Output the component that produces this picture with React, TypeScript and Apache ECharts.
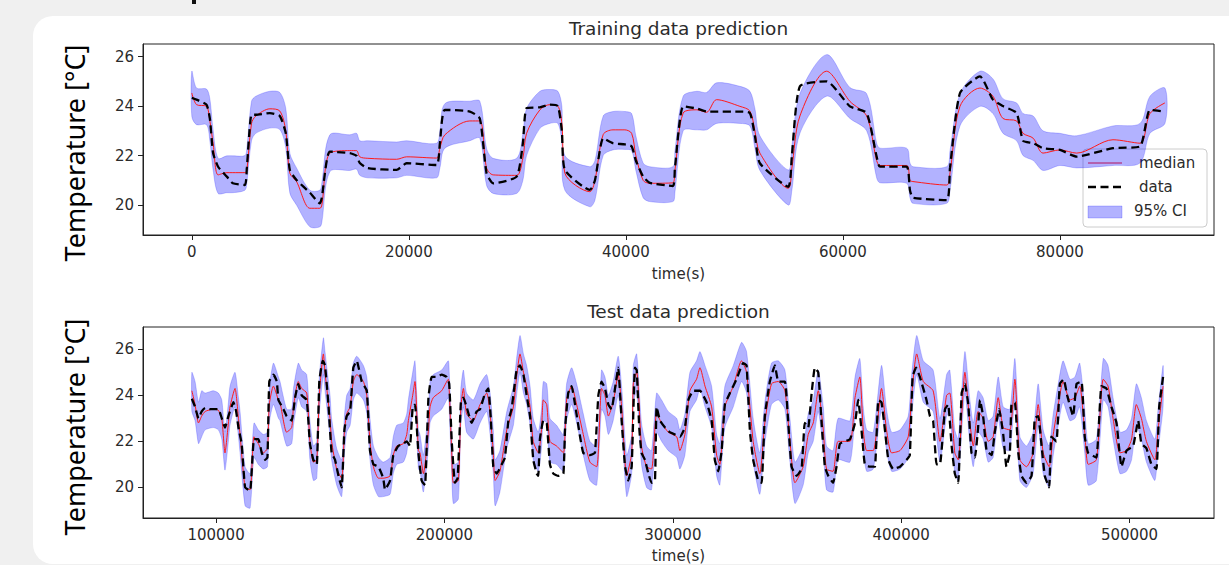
import React, { useEffect, useRef } from "react";
import * as echarts from "echarts";

// ---------------- Training data (time in s, temperature in °C) ----------------
const trainX = [0, 430, 1350, 1660, 1960, 2420, 3230, 3780, 4890, 5070, 5500, 5900, 7190, 8110, 8660, 9030, 9650, 10880, 11800, 11980, 12720, 14560, 15180, 15480, 16220, 18870, 19790, 22550, 22860, 23320, 25620, 26540, 27160, 27770, 29930, 30510, 30850, 32080, 32990, 33730, 34100, 34380, 36680, 37150, 37910, 38810, 39910, 40530, 40920, 41590, 42210, 44330, 44520, 45280, 46540, 47440, 48360, 50510, 51430, 51890, 52350, 54960, 55300, 56040, 58500, 60650, 62190, 63110, 63410, 65870, 66180, 66460, 69560, 69870, 70790, 72630, 73830, 74750, 76010, 76600, 77540, 78440, 80000, 81540, 84890, 87380, 88300, 89680];
const trainData = [24.33, 24.26, 24.06, 23.5, 22.1, 21.55, 21.15, 20.88, 20.81, 21.5, 23.65, 23.65, 23.72, 23.6, 22.9, 21.42, 21.01, 20.5, 20.07, 20.3, 22.16, 22.1, 21.99, 21.7, 21.49, 21.42, 21.69, 21.62, 22.5, 23.85, 23.78, 23.5, 21.29, 20.88, 21.15, 22.5, 23.92, 23.95, 24.06, 24.0, 23.0, 21.42, 20.61, 21.0, 22.7, 22.5, 22.45, 22.37, 21.8, 21.15, 20.9, 20.77, 21.5, 23.99, 23.9, 23.78, 23.78, 23.78, 23.72, 22.8, 21.69, 20.74, 22.0, 24.8, 25.0, 23.99, 23.72, 21.96, 21.55, 21.55, 20.6, 20.3, 20.2, 21.5, 24.53, 25.2, 24.26, 24.0, 23.72, 22.6, 22.5, 22.3, 22.23, 21.96, 22.3, 22.37, 23.85, 23.78];
const trainMedian = [24.53, 24.06, 23.99, 23.4, 22.5, 21.22, 21.31, 21.31, 21.31, 21.4, 23.3, 23.6, 23.89, 23.8, 23.0, 21.29, 20.95, 19.87, 19.87, 20.0, 22.1, 22.2, 22.2, 21.95, 21.89, 21.85, 21.95, 21.9, 22.3, 22.84, 23.4, 23.4, 21.5, 21.22, 21.2, 21.9, 22.9, 23.85, 24.06, 24.0, 23.3, 21.29, 20.54, 21.0, 22.85, 23.04, 23.04, 22.9, 22.0, 21.0, 20.88, 20.9, 21.4, 23.72, 23.85, 23.75, 24.26, 23.99, 23.8, 23.0, 22.1, 20.68, 21.5, 23.6, 25.41, 24.19, 23.6, 21.8, 21.6, 21.6, 21.0, 20.95, 20.81, 21.3, 23.99, 24.73, 24.4, 23.5, 23.4, 22.9, 22.7, 22.1, 22.23, 22.1, 22.64, 22.5, 23.7, 24.13];
const trainUpper = [25.41, 24.73, 24.69, 24.3, 23.04, 21.89, 21.99, 21.99, 22.0, 22.3, 24.2, 24.4, 24.6, 24.55, 23.9, 22.1, 21.5, 20.6, 20.6, 20.9, 22.84, 22.84, 22.9, 22.6, 22.6, 22.55, 22.6, 22.5, 23.0, 24.1, 24.2, 24.2, 22.3, 21.89, 21.89, 22.9, 23.9, 24.6, 24.67, 24.6, 24.0, 22.0, 21.55, 21.8, 23.6, 23.78, 23.78, 23.7, 22.8, 21.7, 21.55, 21.55, 22.2, 24.4, 24.6, 24.55, 24.94, 24.8, 24.6, 23.9, 22.8, 21.42, 22.4, 24.5, 26.08, 24.75, 24.5, 22.5, 22.3, 22.3, 21.7, 21.55, 21.55, 22.2, 24.5, 25.41, 25.1, 24.3, 24.13, 23.7, 23.6, 23.0, 22.9, 22.8, 23.2, 23.3, 24.4, 24.73];
const trainLower = [23.58, 23.25, 23.25, 22.6, 21.42, 20.47, 20.5, 20.5, 20.6, 20.9, 22.6, 22.9, 23.11, 23.05, 22.3, 20.49, 20.0, 19.12, 19.12, 19.3, 21.35, 21.4, 21.45, 21.2, 21.1, 21.1, 21.2, 21.1, 21.5, 22.3, 22.6, 22.7, 20.8, 20.47, 20.47, 21.0, 22.0, 23.1, 23.3, 23.3, 22.5, 20.6, 19.93, 20.2, 22.0, 22.23, 22.25, 22.2, 21.4, 20.3, 20.14, 20.14, 20.5, 23.0, 23.04, 23.04, 23.3, 23.3, 23.2, 22.3, 21.4, 20.0, 20.6, 22.9, 24.4, 23.5, 23.0, 21.1, 20.9, 20.88, 20.3, 20.07, 20.07, 20.6, 23.2, 23.99, 23.7, 22.9, 22.6, 22.0, 21.8, 21.4, 21.6, 21.5, 21.6, 21.7, 22.9, 23.3];

// ---------------- Test data: [time s, temperature °C] ----------------
const testData = [
  [89400, 23.85], [90800, 23.5], [92300, 23.0], [93700, 23.3], [95200, 23.45], [97400, 23.4], [101000, 23.4], [102500, 23.0], [103900, 22.6], [105400, 23.1],
  [107600, 23.7], [108800, 23.3], [109800, 22.6], [111200, 21.9], [112700, 20.0], [114900, 19.85], [116600, 22.1], [118500, 22.1], [120000, 21.5], [121500, 21.2],
  [122500, 21.3], [123300, 24.6], [125100, 24.9], [126600, 24.6], [127300, 23.8], [129500, 23.4], [130900, 23.1], [133100, 22.9], [134600, 23.9], [136000, 24.5],
  [137500, 24.0], [139700, 23.8], [141100, 21.9], [142600, 21.2], [144100, 21.0], [145200, 24.6], [146700, 25.5], [147700, 25.3], [149200, 23.6], [150600, 21.5],
  [152100, 21.2], [153600, 20.5], [155000, 20.0], [156200, 22.5], [157200, 23.1], [158700, 23.3], [160100, 25.2], [161600, 25.5], [163800, 24.6], [166000, 24.2],
  [167400, 21.6], [168900, 21.0], [171100, 20.9], [173200, 20.4], [174000, 19.9], [176200, 20.3], [177600, 21.4], [179800, 21.8], [182000, 21.9], [183500, 22.0],
  [184900, 21.8], [186100, 23.5], [187100, 23.6], [188600, 21.5], [190000, 20.3], [191500, 20.1], [193000, 23.9], [194400, 24.8], [196600, 24.8], [198800, 24.9],
  [201000, 24.8], [202100, 24.5], [203200, 22.0], [204600, 20.2], [205800, 20.4], [207200, 23.7], [208300, 23.9], [209700, 23.5], [211900, 22.8], [214100, 23.3],
  [215600, 23.4], [217800, 24.1], [219200, 24.3], [220300, 23.0], [221400, 20.9], [222900, 20.6], [225100, 21.0], [226500, 21.3], [228000, 22.9], [229400, 23.4],
  [231600, 25.1], [233100, 25.3], [234600, 24.9], [236000, 24.0], [237500, 23.1], [238900, 21.2], [240400, 20.6], [241100, 20.5], [241800, 22.1], [243300, 22.9],
  [244800, 22.8], [246200, 21.0], [247700, 20.6], [249900, 20.5], [252100, 20.6], [252800, 22.5], [254200, 24.1], [255700, 24.4], [257200, 23.6], [259400, 22.2],
  [260800, 21.5], [263700, 21.4], [265900, 21.5], [267400, 24.0], [268800, 24.6], [270300, 24.3], [271800, 23.6], [273200, 23.4], [274700, 24.3], [276100, 25.2],
  [277600, 22.9], [279100, 20.9], [280500, 20.3], [282000, 20.9], [283400, 25.2], [284200, 25.1], [285300, 22.6], [286300, 21.5], [287800, 21.2], [289300, 20.6],
  [290700, 20.2], [292200, 20.3], [292900, 23.5], [294400, 22.9], [296600, 22.6], [298700, 22.4], [300900, 22.3], [303100, 22.2], [305300, 22.6], [306800, 23.8],
  [309000, 24.2], [311900, 24.2], [314800, 23.7], [317000, 22.9], [318400, 21.2], [319900, 20.7], [321400, 21.6], [322800, 23.6], [325000, 24.1], [327900, 24.7],
  [330800, 25.4], [332300, 25.3], [333800, 22.4], [335200, 21.2], [337400, 20.3], [338900, 20.2], [340300, 23.1], [342500, 24.6], [344700, 25.3], [346200, 24.6],
  [349100, 24.6], [350500, 22.9], [352000, 20.9], [354200, 20.5], [356400, 20.8], [357800, 22.8], [359300, 22.6], [360800, 24.1], [362200, 25.2], [363700, 25.0],
  [365100, 22.9], [366600, 20.9], [368100, 20.5], [370200, 20.2], [371700, 20.9], [373200, 21.9], [377600, 22.1], [379800, 22.8], [381200, 23.8], [383100, 22.0],
  [384100, 21.0], [386300, 20.9], [388500, 20.9], [390000, 23.8], [391400, 23.7], [392900, 22.5], [394400, 21.2], [396500, 20.8], [399500, 20.9], [402400, 21.2],
  [403800, 21.4], [405000, 24.8], [406500, 25.2], [408200, 24.8], [411100, 23.8], [412600, 23.1], [414000, 22.9], [415500, 21.0], [417000, 21.0], [419200, 23.4],
  [420600, 23.6], [422100, 21.8], [423500, 20.6], [425000, 20.2], [426500, 24.1], [427900, 24.5], [429400, 23.6], [430800, 21.5], [432300, 21.3], [433700, 22.6],
  [434500, 23.8], [435900, 23.1], [437400, 21.6], [439600, 21.4], [441000, 22.4], [442900, 23.4], [444700, 22.3], [446100, 20.9], [447600, 21.5], [448300, 23.6],
  [449800, 23.7], [451300, 21.5], [452700, 20.5], [454900, 20.2], [457100, 20.5], [458500, 23.0], [460000, 23.1], [461500, 21.8], [462900, 20.5], [464800, 20.0],
  [465800, 22.2], [468000, 22.0], [469500, 24.5], [471200, 24.7], [472700, 24.0], [475300, 23.1], [476800, 24.5], [479000, 24.6], [480400, 22.2], [481900, 21.5],
  [485500, 21.3], [487700, 24.4], [489900, 24.3], [492100, 23.5], [494300, 22.8], [496500, 20.9], [498700, 21.6], [501600, 21.8], [503800, 22.9], [505200, 21.9],
  [507400, 21.7], [509600, 21.0], [511800, 20.8], [513000, 23.5], [514700, 24.8],
];

// [time s, median, lower 95%, upper 95%]
const testMedian = [
  [89400, 24.2, 23.3, 25.0], [90800, 23.6, 22.9, 24.6], [92300, 22.8, 21.9, 23.7], [93700, 23.1, 22.2, 24.2], [95200, 23.3, 22.5, 24.1], [98800, 23.4, 22.6, 24.2],
  [101000, 23.35, 22.5, 24.1], [102500, 23.0, 22.1, 23.8], [103900, 21.5, 20.75, 22.4], [105400, 22.8, 22.0, 23.7], [106100, 23.5, 22.7, 24.4], [108300, 24.3, 23.5, 25.0],
  [109800, 23.0, 22.2, 23.9], [110500, 22.3, 21.5, 23.3], [112700, 20.0, 19.2, 20.9], [114900, 19.9, 19.1, 20.6], [116600, 22.2, 21.3, 22.8], [118500, 21.9, 21.0, 22.5],
  [120700, 21.5, 20.8, 22.3], [122500, 21.7, 20.9, 22.4], [123300, 23.6, 22.8, 24.3], [125100, 24.4, 23.6, 25.4], [127300, 23.8, 23.0, 24.8], [128000, 23.7, 22.9, 24.6],
  [130900, 22.4, 21.8, 23.4], [133100, 22.6, 21.9, 23.4], [133900, 23.5, 22.7, 24.3], [136000, 24.6, 23.9, 25.4], [137500, 24.3, 23.5, 25.1], [139700, 24.1, 23.3, 24.9],
  [141100, 22.0, 21.2, 22.9], [142600, 21.1, 20.3, 21.8], [144100, 21.2, 20.4, 22.0], [145200, 24.0, 23.2, 24.8], [147000, 25.8, 24.9, 26.5], [147700, 25.0, 24.2, 25.9],
  [149900, 23.0, 22.2, 24.0], [150600, 22.0, 21.2, 23.0], [152800, 20.8, 20.1, 21.7], [155000, 20.4, 19.6, 21.2], [156200, 22.4, 21.5, 23.1], [157200, 23.2, 22.4, 24.0],
  [158700, 23.5, 22.7, 24.3], [160100, 24.6, 23.8, 25.4], [161600, 24.9, 24.1, 25.7], [164500, 24.6, 23.8, 25.3], [166000, 24.0, 23.2, 24.8], [167400, 22.0, 21.2, 23.0],
  [168900, 20.9, 20.1, 21.8], [171100, 20.4, 19.6, 21.3], [173200, 20.4, 19.6, 21.1], [176200, 20.5, 19.7, 21.3], [177600, 21.4, 20.6, 22.2], [179100, 21.8, 21.0, 22.7],
  [182000, 21.9, 21.1, 22.8], [183500, 22.3, 21.5, 23.2], [184200, 22.9, 22.1, 23.8], [186100, 24.0, 23.2, 25.0], [187100, 24.6, 23.8, 25.5], [188600, 21.6, 20.8, 22.5],
  [189300, 21.5, 20.7, 22.3], [190800, 20.6, 19.8, 21.4], [193000, 22.5, 21.7, 23.4], [193700, 23.5, 22.8, 24.6], [195100, 23.9, 23.1, 24.9], [198800, 24.2, 23.4, 25.1],
  [201700, 24.7, 23.9, 25.5], [202100, 24.2, 23.3, 25.0], [203200, 21.5, 20.6, 22.4], [203900, 20.2, 19.3, 21.0], [206100, 20.3, 19.5, 21.1], [207200, 23.5, 22.7, 24.3],
  [208300, 24.3, 23.5, 25.1], [209700, 23.2, 22.4, 24.1], [212600, 22.9, 22.1, 23.8], [214100, 23.2, 22.4, 24.1], [215600, 23.6, 22.8, 24.5], [218500, 24.1, 23.3, 24.9],
  [220000, 23.2, 22.3, 24.1], [221400, 21.5, 20.6, 22.5], [222200, 20.3, 19.2, 21.2], [224300, 20.7, 19.8, 21.6], [227300, 22.5, 21.7, 23.3], [230200, 23.5, 22.7, 24.4],
  [231600, 24.8, 24.0, 25.6], [233100, 25.8, 25.0, 26.6], [234600, 25.0, 24.1, 25.8], [236000, 24.4, 23.6, 25.3], [237500, 23.5, 22.7, 24.4], [238900, 22.0, 21.2, 23.0],
  [241100, 21.5, 20.7, 22.4], [242500, 22.5, 21.7, 23.4], [243300, 23.8, 22.9, 24.6], [244800, 23.6, 22.8, 24.5], [246200, 22.0, 21.1, 23.0], [249100, 21.8, 21.0, 22.7],
  [252100, 21.5, 20.7, 22.3], [253500, 23.8, 22.9, 24.5], [255700, 24.4, 23.6, 25.2], [257900, 23.6, 22.8, 24.5], [260800, 22.3, 21.4, 23.2], [263700, 21.1, 20.3, 22.0],
  [266700, 20.9, 20.1, 21.8], [268800, 24.3, 23.4, 25.1], [270300, 24.0, 23.1, 24.8], [271800, 23.1, 22.3, 24.0], [273900, 23.7, 22.9, 24.6], [276100, 24.9, 24.0, 25.7],
  [277600, 23.5, 22.6, 24.4], [279800, 20.5, 19.6, 21.4], [282000, 21.5, 20.6, 22.3], [282700, 24.5, 23.6, 25.3], [284200, 25.0, 24.2, 25.8], [286300, 21.8, 21.0, 22.8],
  [288500, 20.9, 20.0, 21.8], [290700, 20.8, 19.9, 21.6], [292900, 23.2, 22.4, 24.1], [295100, 22.8, 22.0, 23.8], [298000, 22.4, 21.6, 23.3], [301700, 22.2, 21.3, 23.0],
  [303100, 21.6, 20.8, 22.5], [305300, 22.3, 21.4, 23.2], [307500, 24.2, 23.3, 25.0], [310400, 24.7, 23.8, 25.5], [311900, 25.2, 24.3, 25.9], [314100, 24.4, 23.5, 25.3],
  [317000, 23.5, 22.6, 24.4], [319200, 21.4, 20.5, 22.3], [320600, 21.0, 20.1, 21.9], [322800, 23.5, 22.6, 24.4], [326500, 24.4, 23.5, 25.3], [330100, 25.5, 24.6, 26.3],
  [332300, 25.0, 24.1, 25.9], [335200, 22.0, 21.1, 23.0], [338100, 20.6, 19.7, 21.5], [340300, 22.8, 21.9, 23.7], [343200, 24.5, 23.6, 25.4], [346200, 24.6, 23.8, 25.5],
  [349100, 24.2, 23.4, 25.1], [351300, 22.0, 21.1, 23.0], [353500, 20.2, 19.3, 21.1], [357100, 20.9, 20.1, 21.8], [359300, 22.3, 21.5, 23.2], [361500, 22.8, 22.0, 23.8],
  [363700, 24.2, 23.3, 25.1], [365900, 22.5, 21.6, 23.5], [367300, 20.8, 19.9, 21.8], [370200, 20.7, 19.8, 21.6], [372400, 22.0, 21.2, 23.0], [377600, 22.0, 21.1, 22.9],
  [379800, 23.9, 23.0, 24.8], [381900, 24.8, 23.9, 25.6], [383400, 22.5, 21.6, 23.5], [384900, 21.6, 20.7, 22.5], [387800, 21.6, 20.8, 22.4], [391400, 24.3, 23.4, 25.3],
  [393600, 22.5, 21.6, 23.4], [395800, 21.5, 20.7, 22.4], [399500, 21.6, 20.8, 22.5], [403100, 22.2, 21.3, 23.1], [404600, 24.0, 23.1, 24.9], [406800, 25.8, 24.9, 26.6],
  [409700, 24.6, 23.7, 25.5], [414000, 24.2, 23.3, 25.1], [417000, 22.0, 21.1, 23.0], [419900, 24.0, 23.1, 24.9], [421300, 24.1, 23.2, 25.1], [423500, 21.5, 20.6, 22.5],
  [425000, 21.2, 20.3, 22.1], [427900, 25.0, 24.1, 25.9], [430100, 22.8, 21.9, 23.8], [431600, 21.8, 20.9, 22.8], [433700, 23.3, 22.4, 24.2], [435900, 23.0, 22.1, 23.9],
  [438100, 22.0, 21.1, 22.9], [440300, 22.2, 21.3, 23.1], [442500, 23.9, 23.0, 24.8], [444700, 22.6, 21.7, 23.5], [447600, 22.5, 21.6, 23.4], [449800, 24.7, 23.8, 25.6],
  [452000, 21.2, 20.3, 22.2], [454900, 20.9, 20.0, 21.8], [457800, 21.5, 20.6, 22.4], [460000, 23.6, 22.7, 24.5], [462200, 21.5, 20.6, 22.5], [464800, 20.9, 20.0, 21.8],
  [466600, 22.3, 21.4, 23.2], [468800, 23.6, 22.7, 24.5], [470900, 24.6, 23.7, 25.5], [473900, 23.8, 22.9, 24.7], [476100, 23.9, 23.0, 24.8], [478200, 24.4, 23.5, 25.4],
  [480400, 22.4, 21.5, 23.4], [481900, 21.0, 20.1, 21.9], [485500, 21.2, 20.3, 22.1], [488500, 24.7, 23.8, 25.6], [490600, 24.4, 23.5, 25.3], [492800, 23.0, 22.1, 23.9],
  [495800, 21.5, 20.6, 22.4], [498700, 21.6, 20.7, 22.5], [500900, 22.1, 21.2, 23.0], [503000, 23.6, 22.7, 24.5], [505200, 23.0, 22.1, 23.9], [507400, 22.0, 21.1, 22.9],
  [511100, 21.2, 20.3, 22.1], [512500, 22.5, 21.6, 23.4], [514700, 24.4, 23.5, 25.3],
];

const trainTicks = [0, 20000, 40000, 60000, 80000];
const testTicks = [100000, 200000, 300000, 400000, 500000];
const tempTicks = [20, 22, 24, 26];

const FONT = "DejaVu Sans";
const TXT = "#2b2b2b";
const BAND = "rgba(0, 0, 255, 0.30)";
const BAND_EDGE = "rgba(0, 0, 255, 0.20)";

function axisPair(gi: number, xmin: number, xmax: number, ymin: number, ymax: number, xt: number[]) {
  const common = {
    gridIndex: gi,
    type: "value" as const,
    splitLine: { show: false },
    axisLine: { show: true, onZero: false, lineStyle: { color: "#222", width: 1 } },
    axisTick: { show: true, length: 5, lineStyle: { color: "#222", width: 1 } },
  };
  const fmt = (v: number) => String(v);
  const x = {
    ...common,
    min: xmin,
    max: xmax,
    axisTick: { ...common.axisTick, customValues: xt },
    axisLabel: { customValues: xt, formatter: fmt, fontFamily: FONT, fontSize: 15, color: TXT, margin: 9 },
  };
  const y = {
    ...common,
    min: ymin,
    max: ymax,
    axisTick: { ...common.axisTick, customValues: tempTicks },
    axisLabel: { customValues: tempTicks, formatter: fmt, fontFamily: FONT, fontSize: 15, color: TXT, margin: 9 },
  };
  return { x, y };
}

// band: rows of [x, lower, upper]
function seriesFor(gi: number, data: number[][], median: number[][], band: number[][], smooth: number, dataSmooth: number) {
  return [
    {
      type: "custom",
      xAxisIndex: gi,
      yAxisIndex: gi,
      data: [[band[0][0], band[0][1]]],
      encode: { x: 0, y: 1 },
      clip: true,
      silent: true,
      z: 1,
      renderItem: (_params: any, api: any) => {
        const top = band.map((b) => api.coord([b[0], b[2]]));
        const bottom = band.map((b) => api.coord([b[0], b[1]])).reverse();
        return {
          type: "polygon",
          shape: { points: top.concat(bottom), smooth, smoothConstraint: false },
          style: { fill: BAND, stroke: BAND_EDGE, lineWidth: 1 },
        };
      },
    },
    {
      type: "line",
      xAxisIndex: gi,
      yAxisIndex: gi,
      data: median,
      symbol: "none",
      smooth,
      lineStyle: { color: "#ff1a1a", width: 1 },
      z: 2,
    },
    {
      type: "line",
      xAxisIndex: gi,
      yAxisIndex: gi,
      data,
      symbol: "none",
      smooth: dataSmooth,
      lineStyle: { color: "#000", width: 2.3, type: [8, 4.5] },
      z: 3,
    },
  ];
}

export default function App() {
  const ref = useRef<HTMLDivElement | null>(null);

  useEffect(() => {
    if (!ref.current) return;
    const chart = echarts.init(ref.current, null, { renderer: "svg" });

    const trainDataPts = trainX.map((x, i) => [x, trainData[i]]);
    const trainMedPts = trainX.map((x, i) => [x, trainMedian[i]]);
    const trainBand = trainX.map((x, i) => [x, trainLower[i], trainUpper[i]]);
    const testMedPts = testMedian.map((r) => [r[0], r[1]]);
    const testBand = testMedian.map((r) => [r[0], r[2], r[3]]);

    const a0 = axisPair(0, -4500, 94200, 18.79, 26.51, trainTicks);
    const a1 = axisPair(1, 68000, 537000, 18.67, 26.97, testTicks);

    const gx = 143;
    const gw = 1071;
    const cx = gx + gw / 2;

    chart.setOption({
      animation: false,
      backgroundColor: "transparent",
      grid: [
        { left: gx, top: 44, width: gw, height: 191, show: true, borderColor: "#222", borderWidth: 1, backgroundColor: "#fff" },
        { left: gx, top: 327, width: gw, height: 191, show: true, borderColor: "#222", borderWidth: 1, backgroundColor: "#fff" },
      ],
      xAxis: [a0.x, a1.x],
      yAxis: [a0.y, a1.y],
      series: [
        ...seriesFor(0, trainDataPts, trainMedPts, trainBand, 0.3, 0.18),
        ...seriesFor(1, testData, testMedPts, testBand, 0.2, 0.12),
      ],
      graphic: [
        { type: "rect", shape: { x: 192, y: 0, width: 4, height: 4 }, style: { fill: "#111" }, silent: true },
        { type: "text", x: cx, y: 28, style: { text: "Training data prediction", font: `18.5px "${FONT}"`, fill: TXT, align: "center", verticalAlign: "middle" } },
        { type: "text", x: cx, y: 311, style: { text: "Test data prediction", font: `18.5px "${FONT}"`, fill: TXT, align: "center", verticalAlign: "middle" } },
        { type: "text", x: cx, y: 274, style: { text: "time(s)", font: `15px "${FONT}"`, fill: TXT, align: "center", verticalAlign: "middle" } },
        { type: "text", x: cx, y: 556, style: { text: "time(s)", font: `15px "${FONT}"`, fill: TXT, align: "center", verticalAlign: "middle" } },
        { type: "text", x: 74, y: 153, rotation: Math.PI / 2, style: { text: "Temperature [°C]", font: `27px "Noto Sans"`, fill: "#000", align: "center", verticalAlign: "middle" } },
        { type: "text", x: 74, y: 427, rotation: Math.PI / 2, style: { text: "Temperature [°C]", font: `27px "Noto Sans"`, fill: "#000", align: "center", verticalAlign: "middle" } },
        {
          type: "group",
          x: 1083,
          y: 149,
          z: 100,
          children: [
            { type: "rect", shape: { x: 0, y: 0, width: 124, height: 78, r: 4 }, style: { fill: "rgba(255,255,255,0.8)", stroke: "#cccccc", lineWidth: 1 } },
            { type: "line", shape: { x1: 5, y1: 14, x2: 39, y2: 14 }, style: { stroke: "#ff1a1a", lineWidth: 1 } },
            { type: "line", shape: { x1: 5, y1: 38, x2: 39, y2: 38 }, style: { stroke: "#000", lineWidth: 2.3, lineDash: [8, 4.5] } },
            { type: "rect", shape: { x: 5, y: 57, width: 34, height: 12 }, style: { fill: BAND, stroke: BAND_EDGE, lineWidth: 1 } },
            { type: "text", x: 56, y: 14, style: { text: "median", font: `15px "${FONT}"`, fill: TXT, align: "left", verticalAlign: "middle" } },
            { type: "text", x: 56, y: 38, style: { text: "data", font: `15px "${FONT}"`, fill: TXT, align: "left", verticalAlign: "middle" } },
            { type: "text", x: 51, y: 62, style: { text: "95% CI", font: `15px "${FONT}"`, fill: TXT, align: "left", verticalAlign: "middle" } },
          ],
        },
      ],
    });

    return () => chart.dispose();
  }, []);

  return (
    <div style={{ position: "absolute", left: 0, top: 0, width: 1229, height: 565, background: "#f0f0f0", overflow: "hidden" }}>
      <div style={{ position: "absolute", left: 33, top: 16, width: 1260, height: 548, background: "#fff", borderRadius: 20 }} />
      <div ref={ref} style={{ position: "absolute", left: 0, top: 0, width: 1229, height: 565 }} />
    </div>
  );
}
